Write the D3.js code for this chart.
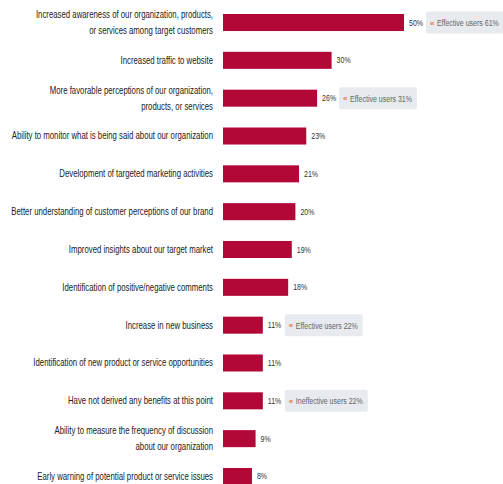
<!DOCTYPE html>
<html>
<head>
<meta charset="utf-8">
<script src="https://cdn.jsdelivr.net/npm/d3@7"></script>
<style>
  body { margin: 0; background: #fff; }
  text { font-family: "Liberation Sans", Arial, sans-serif; }
</style>
</head>
<body>
<div id="chart"></div>
<script>
// benefits of social media (share of respondents, %)
var categories = [
  "Increased awareness of our organization, products,\nor services among target customers",
  "Increased traffic to website",
  "More favorable perceptions of our organization,\nproducts, or services",
  "Ability to monitor what is being said about our organization",
  "Development of targeted marketing activities",
  "Better understanding of customer perceptions of our brand",
  "Improved insights about our target market",
  "Identification of positive/negative comments",
  "Increase in new business",
  "Identification of new product or service opportunities",
  "Have not derived any benefits at this point",
  "Ability to measure the frequency of discussion\nabout our organization",
  "Early warning of potential product or service issues"
];
var values = [50, 30, 26, 23, 21, 20, 19, 18, 11, 11, 11, 9, 8];

// callouts next to some bars
var calloutIndex = [0, 2, 8, 10];
var calloutText = ["Effective users 61%", "Effective users 31%", "Effective users 22%", "Ineffective users 22%"];

var width = 503, height = 484;
var barLeft = 223;
var squeeze = 0.78; // condensed look of the original font

var svg = d3.select("#chart").append("svg")
  .attr("width", width).attr("height", height);

var y = d3.scaleBand().domain(categories).range([14, 485]).paddingInner(0.55).paddingOuter(0);
var x = d3.scaleLinear().domain([0, 50]).range([barLeft, barLeft + 181]);

// bars
svg.selectAll("rect.bar")
  .data(values)
  .enter().append("rect")
  .attr("class", "bar")
  .attr("x", x(0))
  .attr("y", function(d, i) { return y(categories[i]); })
  .attr("width", function(d) { return x(d) - x(0); })
  .attr("height", y.bandwidth())
  .attr("fill", "#b20838");

// category labels
var lab = svg.selectAll("text.cat")
  .data(categories)
  .enter().append("text")
  .attr("class", "cat")
  .attr("text-anchor", "end")
  .attr("transform", "translate(213,0) scale(" + squeeze + ",1)")
  .style("font-size", "10px")
  .style("fill", "#222");

lab.each(function(d) {
  var lines = d.split("\n");
  var cy = y(d) + y.bandwidth() / 2;
  var t = d3.select(this);
  lines.forEach(function(l, k) {
    t.append("tspan")
      .attr("x", 0)
      .attr("y", cy + (k - (lines.length - 1) / 2) * 16 + 3.5)
      .text(l);
  });
});

// value labels
svg.selectAll("text.val")
  .data(values)
  .enter().append("text")
  .attr("class", "val")
  .attr("transform", function(d, i) {
    return "translate(" + (x(d) + 5) + "," + (y(categories[i]) + y.bandwidth() / 2 + 3) + ") scale(" + squeeze + ",1)";
  })
  .style("font-size", "9px")
  .style("fill", "#333")
  .text(function(d) { return d + "%"; });

// callout boxes
var callouts = calloutIndex.map(function(idx, k) { return {i: idx, text: calloutText[k]}; });
var cg = svg.selectAll("g.callout")
  .data(callouts)
  .enter().append("g")
  .attr("class", "callout")
  .attr("transform", function(d) {
    return "translate(" + (x(values[d.i]) + 22) + "," + (y(categories[d.i]) + y.bandwidth() / 2 - 11) + ")";
  });

cg.append("text")
  .attr("class", "ctext")
  .attr("transform", "translate(11,14.5) scale(" + squeeze + ",1)")
  .style("font-size", "9px")
  .style("fill", "#666")
  .text(function(d) { return d.text; });

cg.insert("rect", "text")
  .attr("x", 0).attr("y", 0)
  .attr("rx", 2)
  .attr("width", function() {
    return this.parentNode.querySelector("text").getComputedTextLength() * squeeze + 16;
  })
  .attr("height", 22)
  .attr("fill", "#e7eaee");

cg.append("text")
  .attr("x", 4)
  .attr("y", 14)
  .style("font-size", "8px")
  .style("font-weight", "bold")
  .style("fill", "#e8763a")
  .text("\u00ab");
</script>
</body>
</html>
